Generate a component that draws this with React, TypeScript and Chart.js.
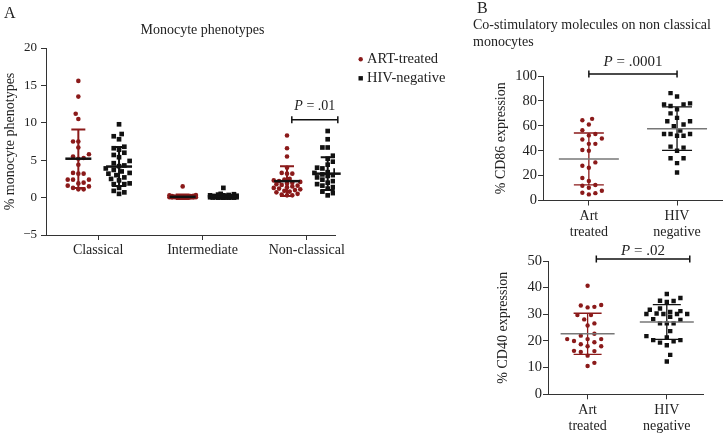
import React, { useEffect, useRef } from 'react';
import { Chart, registerables } from 'chart.js';

Chart.register(...registerables);

// ---------------- data ----------------
const SERIES = ['ART-treated', 'HIV-negative'];
const PHENOTYPES = ['Classical', 'Intermediate', 'Non-classical'];
const GROUPS_B = [['Art', 'treated'], ['HIV', 'negative']];

const artClassical = [15.6, 13.5, 11.2, 10.5, 7.5, 7.5, 6.7, 5.8, 5.5, 5.3, 5.2, 4.4, 3.3, 3.2, 3.2, 2.4, 2.4, 2.4, 2.0, 1.9, 1.6, 1.5, 1.3, 1.1, 1.1];
const hivClassical = [9.8, 8.5, 8.2, 7.8, 6.8, 6.6, 6.4, 6.0, 5.7, 5.4, 4.9, 4.6, 4.3, 4.2, 3.9, 3.7, 3.5, 3.3, 3.2, 3.0, 2.7, 2.5, 2.3, 1.9, 1.8, 1.8, 1.3, 0.9, 0.7, 0.5];
const artIntermediate = [1.5, 0.35, 0.3, 0.25, 0.2, 0.2, 0.15, 0.15, 0.1, 0.1, 0.1, 0.1, 0.05, 0.05, 0.05, 0.05, 0.05, 0.02, 0.02, 0.02, 0.02, 0.01, 0.01, 0, 0];
const hivIntermediate = [1.3, 0.5, 0.45, 0.4, 0.35, 0.3, 0.3, 0.25, 0.2, 0.2, 0.2, 0.15, 0.15, 0.1, 0.1, 0.1, 0.1, 0.05, 0.05, 0.05, 0.05, 0.02, 0.02, 0.01, 0.01, 0, 0, 0, 0];
const artNonClassical = [8.3, 6.6, 5.5, 4.0, 3.3, 3.2, 3.2, 2.5, 2.4, 2.3, 2.2, 2.1, 2.0, 1.9, 1.8, 1.7, 1.6, 1.5, 1.4, 1.3, 1.2, 1.1, 1.0, 0.9, 0.8, 0.7, 0.5, 0.4, 0.3, 0.3];
const hivNonClassical = [8.9, 7.8, 6.7, 6.7, 5.6, 5.2, 4.8, 4.4, 4.0, 3.9, 3.6, 3.4, 3.3, 3.2, 3.1, 3.0, 2.9, 2.7, 2.5, 2.4, 2.2, 2.0, 1.8, 1.6, 1.4, 1.2, 1.0, 0.8, 0.6, 0.3];
const artMeanA = [5.2, 0.1, 2.2];
const artSdA = [3.9, 0.3, 2.0];
const hivMeanA = [4.15, 0.15, 3.2];
const hivSdA = [2.6, 0.25, 2.2];

const cd86Art = [65.6, 64.5, 61, 56.4, 53.4, 52.3, 49.8, 49, 45.5, 45.5, 40.6, 40, 30.6, 27.9, 26.3, 18.1, 15.7, 12.5, 11.9, 10.3, 7.8, 6.2, 5.9, 4.9];
const cd86Hiv = [86.2, 83.5, 78, 77.2, 77.2, 75.9, 73.2, 70, 66.4, 63.7, 63.7, 61, 59.6, 56.1, 53.4, 53.4, 53.4, 52, 52, 43.3, 42.5, 40, 33.9, 33.9, 30, 22.5];
const cd86Mean = [33.4, 57.7];
const cd86Sd = [20.8, 17.5];

const cd40Art = [40.7, 33.5, 33.3, 32.8, 32.6, 29.7, 29.7, 28.1, 26.6, 25.8, 22.7, 22, 20.7, 20.7, 20.7, 20, 19.5, 18.8, 18, 18, 16.3, 16.2, 15.9, 14.5, 11.8, 10.6];
const cd40Hiv = [37.6, 36.1, 35.1, 35, 34.6, 32.2, 31.7, 31.2, 30.9, 30.3, 30.1, 30.1, 30.1, 30.1, 29.1, 28.2, 27.9, 26.6, 26.6, 26.6, 23.7, 21.8, 21.3, 20.3, 20.3, 19.9, 19.4, 18.4, 14.8, 12.3];
const cd40Mean = [22.7, 27.1];
const cd40Sd = [7.7, 6.5];

const P_VALUES = ['.01', '.0001', '.02'];

// ---------------- style ----------------
const FONT = "'Liberation Serif', 'Times New Roman', serif";
const RED = '#8b1a1a';
const BLACK = '#111111';
const TEXT = '#222222';
const AXIS = '#333333';

function swarm(pys: number[], maxHalf: number, d: number): number[] {
  const idx = pys.map((_, i) => i).sort((a, b) => pys[b] - pys[a]);
  const placed: { x: number; y: number }[] = [];
  const out = new Array(pys.length).fill(0);
  const steps: number[] = [0];
  for (let k = 1; (k * d) / 2 <= maxHalf + 0.01; k++) steps.push((k * d) / 2);
  let bal = 0;
  for (const i of idx) {
    const y = pys[i];
    const cands: number[] = [];
    steps.forEach((s) => {
      if (s === 0) cands.push(0);
      else if (bal > 0) cands.push(-s, s);
      else cands.push(s, -s);
    });
    let chosen: number | null = null;
    let best = 0;
    let bestScore = -1;
    for (const c of cands) {
      let minD = Infinity;
      for (const p of placed) {
        const dd = Math.hypot(p.x - c, p.y - y);
        if (dd < minD) minD = dd;
      }
      if (minD >= d) { chosen = c; break; }
      if (minD > bestScore + 0.3) { bestScore = minD; best = c; }
    }
    const x = chosen === null ? best : chosen;
    bal += x;
    placed.push({ x, y });
    out[i] = x;
  }
  return out;
}

function drawP(ctx: CanvasRenderingContext2D, cx: number, baseY: number, p: string, size: number) {
  const it = `italic ${size}px ${FONT}`;
  const rg = `${size}px ${FONT}`;
  ctx.font = it;
  const w1 = ctx.measureText('P').width;
  ctx.font = rg;
  const rest = ' = ' + p;
  const w2 = ctx.measureText(rest).width;
  const x0 = cx - (w1 + w2) / 2;
  ctx.fillStyle = TEXT;
  ctx.textBaseline = 'alphabetic';
  ctx.textAlign = 'left';
  ctx.font = it;
  ctx.fillText('P', x0, baseY);
  ctx.font = rg;
  ctx.fillText(rest, x0 + w1, baseY);
}

type Cfg = {
  values: number[][][];
  centers: number[][];
  means: number[][];
  sds: number[][];
  colors: string[];
  styles: string[];
  radii: number[];
  meanColor: string;
  meanHalf: number;
  capHalf: number;
  meanWidth: number;
  barWidth: number;
  swarmHalf: number;
  swarmDist: number;
  bracket: { x1: number; x2: number; y: number; p: string; gap: number; size: number };
  extra?: (ctx: CanvasRenderingContext2D, chart: any) => void;
};

function makeOverlay(cfg: Cfg) {
  return {
    id: 'overlay',
    afterDatasetsDraw(chart: any) {
      const ctx: CanvasRenderingContext2D = chart.ctx;
      const xs = chart.scales.x;
      const ys = chart.scales.y;
      ctx.save();
      cfg.means.forEach((ms, s) => {
        ms.forEach((m, g) => {
          const cx = xs.getPixelForValue(cfg.centers[s][g]);
          const ym = ys.getPixelForValue(m);
          const yu = ys.getPixelForValue(m + cfg.sds[s][g]);
          const yl = ys.getPixelForValue(m - cfg.sds[s][g]);
          ctx.strokeStyle = cfg.colors[s];
          ctx.lineWidth = cfg.barWidth;
          ctx.beginPath();
          ctx.moveTo(cx, yu);
          ctx.lineTo(cx, yl);
          ctx.moveTo(cx - cfg.capHalf, yu);
          ctx.lineTo(cx + cfg.capHalf, yu);
          ctx.moveTo(cx - cfg.capHalf, yl);
          ctx.lineTo(cx + cfg.capHalf, yl);
          ctx.stroke();
          ctx.strokeStyle = cfg.meanColor;
          ctx.lineWidth = cfg.meanWidth;
          ctx.beginPath();
          ctx.moveTo(cx - cfg.meanHalf, ym);
          ctx.lineTo(cx + cfg.meanHalf, ym);
          ctx.stroke();
        });
      });
      const b = cfg.bracket;
      const bx1 = xs.getPixelForValue(b.x1);
      const bx2 = xs.getPixelForValue(b.x2);
      const by = ys.getPixelForValue(b.y);
      ctx.strokeStyle = BLACK;
      ctx.lineWidth = 1.5;
      ctx.beginPath();
      ctx.moveTo(bx1, by);
      ctx.lineTo(bx2, by);
      ctx.moveTo(bx1, by - 3.5);
      ctx.lineTo(bx1, by + 3.5);
      ctx.moveTo(bx2, by - 3.5);
      ctx.lineTo(bx2, by + 3.5);
      ctx.stroke();
      drawP(ctx, (bx1 + bx2) / 2, by - b.gap, b.p, b.size);
      if (cfg.extra) cfg.extra(ctx, chart);
      ctx.restore();
    },
  };
}

function yAxis(min: number, max: number, step: number, title: string, titlePad: number, width: number, tickSize: number, tickPad: number) {
  return {
    type: 'linear',
    min,
    max,
    ticks: {
      stepSize: step,
      font: { family: FONT, size: tickSize },
      color: TEXT,
      padding: tickPad,
      callback: (v: number) => (v < 0 ? '\u2212' + Math.abs(v) : String(v)),
    },
    grid: { display: true, drawOnChartArea: false, drawTicks: true, tickLength: 5, color: AXIS, lineWidth: 1 },
    border: { display: true, color: AXIS, width: 1 },
    title: { display: true, text: title, font: { family: FONT, size: 14 }, color: TEXT, padding: { top: titlePad, bottom: 0 } },
    afterFit: (s: any) => { s.width = width; },
  };
}

function xAxis(min: number, max: number, labels: any[], height: number, pad: number) {
  return {
    type: 'linear',
    min,
    max,
    afterBuildTicks: (s: any) => { s.ticks = labels.map((_, i) => ({ value: i + 1 })); },
    ticks: {
      autoSkip: false,
      maxRotation: 0,
      font: { family: FONT, size: 14 },
      color: TEXT,
      padding: pad,
      callback: (v: number) => labels[Math.round(v) - 1],
    },
    grid: { display: true, drawOnChartArea: false, drawTicks: true, tickLength: 5, color: AXIS, lineWidth: 1 },
    border: { display: true, color: AXIS, width: 1 },
    afterFit: (s: any) => { s.height = height; },
  };
}

function buildChart(canvas: HTMLCanvasElement, cfg: Cfg, scales: any, layoutPad: any, title: any) {
  const datasets = cfg.values.map((ser, s) => ({
    label: SERIES[s],
    data: ser.flatMap((vals, g) => vals.map((v) => ({ x: cfg.centers[s][g], y: v }))),
    pointStyle: cfg.styles[s],
    pointRadius: cfg.radii[s],
    pointHoverRadius: cfg.radii[s],
    backgroundColor: cfg.colors[s],
    borderColor: cfg.colors[s],
    borderWidth: 0,
    showLine: false,
  }));
  const chart: any = new Chart(canvas, {
    type: 'scatter',
    data: { datasets },
    options: {
      responsive: false,
      animation: false,
      devicePixelRatio: 1,
      layout: { padding: layoutPad },
      scales,
      plugins: {
        legend: { display: false },
        tooltip: { enabled: false },
        title,
      },
    } as any,
    plugins: [makeOverlay(cfg)],
  });
  const xs = chart.scales.x;
  const ys = chart.scales.y;
  const pxPerX = xs.getPixelForValue(1) - xs.getPixelForValue(0);
  cfg.values.forEach((ser, s) => {
    const pts: { x: number; y: number }[] = [];
    ser.forEach((vals, g) => {
      const offs = swarm(vals.map((v) => ys.getPixelForValue(v)), cfg.swarmHalf, cfg.swarmDist);
      vals.forEach((v, i) => pts.push({ x: cfg.centers[s][g] + offs[i] / pxPerX, y: v }));
    });
    chart.data.datasets[s].data = pts;
  });
  chart.update('none');
  return chart;
}

export default function App() {
  const aRef = useRef<HTMLCanvasElement>(null);
  const bRef = useRef<HTMLCanvasElement>(null);
  const cRef = useRef<HTMLCanvasElement>(null);

  useEffect(() => {
    const charts: any[] = [];
    // ---- Panel A ----
    const cfgA: Cfg = {
      values: [
        [artClassical, artIntermediate, artNonClassical],
        [hivClassical, hivIntermediate, hivNonClassical],
      ],
      centers: [
        PHENOTYPES.map((_, i) => i + 1 - 0.19),
        PHENOTYPES.map((_, i) => i + 1 + 0.2),
      ],
      means: [artMeanA, hivMeanA],
      sds: [artSdA, hivSdA],
      colors: [RED, BLACK],
      styles: ['circle', 'rect'],
      radii: [2.3, 3.3],
      meanColor: BLACK,
      meanHalf: 13,
      capHalf: 7,
      meanWidth: 2.5,
      barWidth: 2,
      swarmHalf: 14,
      swarmDist: 5.3,
      bracket: { x1: 2.856, x2: 3.297, y: 10.4, p: P_VALUES[0], gap: 10, size: 14 },
      extra: (ctx) => {
        ctx.fillStyle = TEXT;
        ctx.textAlign = 'left';
        ctx.textBaseline = 'alphabetic';
        ctx.font = `16px ${FONT}`;
        ctx.fillText('A', 4, 18);
        ctx.textAlign = 'center';
        ctx.textBaseline = 'middle';
        ctx.font = `14px ${FONT}`;
        ctx.fillText('Monocyte phenotypes', 202.5, 30);
        // legend
        ctx.fillStyle = RED;
        ctx.beginPath();
        ctx.arc(360.7, 59.3, 2.2, 0, Math.PI * 2);
        ctx.fill();
        ctx.fillStyle = BLACK;
        ctx.fillRect(358.5, 76.1, 4.4, 4.4);
        ctx.fillStyle = TEXT;
        ctx.textAlign = 'left';
        ctx.font = `14.5px ${FONT}`;
        ctx.fillText(SERIES[0], 367, 59.5);
        ctx.fillText(SERIES[1], 367, 78.5);
      },
    };
    charts.push(
      buildChart(
        aRef.current!,
        cfgA,
        {
          x: xAxis(0.5, 3.27, PHENOTYPES, 40, 2),
          y: yAxis(-5, 20, 5, '% monocyte phenotypes', 2, 46, 13, 4),
        },
        { left: 0, top: 48, right: 135, bottom: 0 },
        { display: false }
      )
    );

    // ---- Panel B top (CD86) ----
    const cfgB: Cfg = {
      values: [[cd86Art], [cd86Hiv]],
      centers: [[1], [2]],
      means: [[cd86Mean[0]], [cd86Mean[1]]],
      sds: [[cd86Sd[0]], [cd86Sd[1]]],
      colors: [RED, BLACK],
      styles: ['circle', 'rect'],
      radii: [2.2, 3.1],
      meanColor: '#777777',
      meanHalf: 30,
      capHalf: 15,
      meanWidth: 1.5,
      barWidth: 1.3,
      swarmHalf: 19,
      swarmDist: 6.5,
      bracket: { x1: 1, x2: 2, y: 101.6, p: P_VALUES[1], gap: 8, size: 15 },
      extra: (ctx) => {
        ctx.fillStyle = TEXT;
        ctx.textAlign = 'left';
        ctx.textBaseline = 'alphabetic';
        ctx.font = `16px ${FONT}`;
        ctx.fillText('B', 7, 13);
      },
    };
    charts.push(
      buildChart(
        bRef.current!,
        cfgB,
        {
          x: xAxis(0.48, 2.52, GROUPS_B, 39.5, 2),
          y: yAxis(0, 100, 20, '% CD86 expression', 19.6, 70, 14.5, 1),
        },
        { left: 3, top: 0, right: 1, bottom: 0 },
        {
          display: true,
          text: ['Co-stimulatory molecules on non classical', 'monocytes'],
          align: 'start',
          color: TEXT,
          font: { family: FONT, size: 14, weight: 'normal' },
          padding: { top: 17, bottom: 25.4 },
        }
      )
    );

    // ---- Panel B bottom (CD40) ----
    const cfgC: Cfg = {
      values: [[cd40Art], [cd40Hiv]],
      centers: [[1], [2]],
      means: [[cd40Mean[0]], [cd40Mean[1]]],
      sds: [[cd40Sd[0]], [cd40Sd[1]]],
      colors: [RED, BLACK],
      styles: ['circle', 'rect'],
      radii: [2.2, 3.1],
      meanColor: '#777777',
      meanHalf: 27,
      capHalf: 14,
      meanWidth: 1.5,
      barWidth: 1.3,
      swarmHalf: 22,
      swarmDist: 6.8,
      bracket: { x1: 1.11, x2: 2.29, y: 50.75, p: P_VALUES[2], gap: 4, size: 15 },
    };
    charts.push(
      buildChart(
        cRef.current!,
        cfgC,
        {
          x: xAxis(0.5, 2.457, GROUPS_B, 40.7, 2.3),
          y: yAxis(0, 50, 10, '% CD40 expression', 21.6, 75, 14.5, 1),
        },
        { left: 3, top: 21, right: 23, bottom: 0 },
        { display: false }
      )
    );

    return () => charts.forEach((c) => c.destroy());
  }, []);

  return (
    <div style={{ position: 'absolute', left: 0, top: 0, width: 726, height: 435, background: '#ffffff' }}>
      <canvas ref={aRef} width={470} height={275} style={{ position: 'absolute', left: 0, top: 0, display: 'block' }} />
      <canvas ref={bRef} width={256} height={240} style={{ position: 'absolute', left: 470, top: 0, display: 'block' }} />
      <canvas ref={cRef} width={256} height={195} style={{ position: 'absolute', left: 470, top: 240, display: 'block' }} />
    </div>
  );
}
